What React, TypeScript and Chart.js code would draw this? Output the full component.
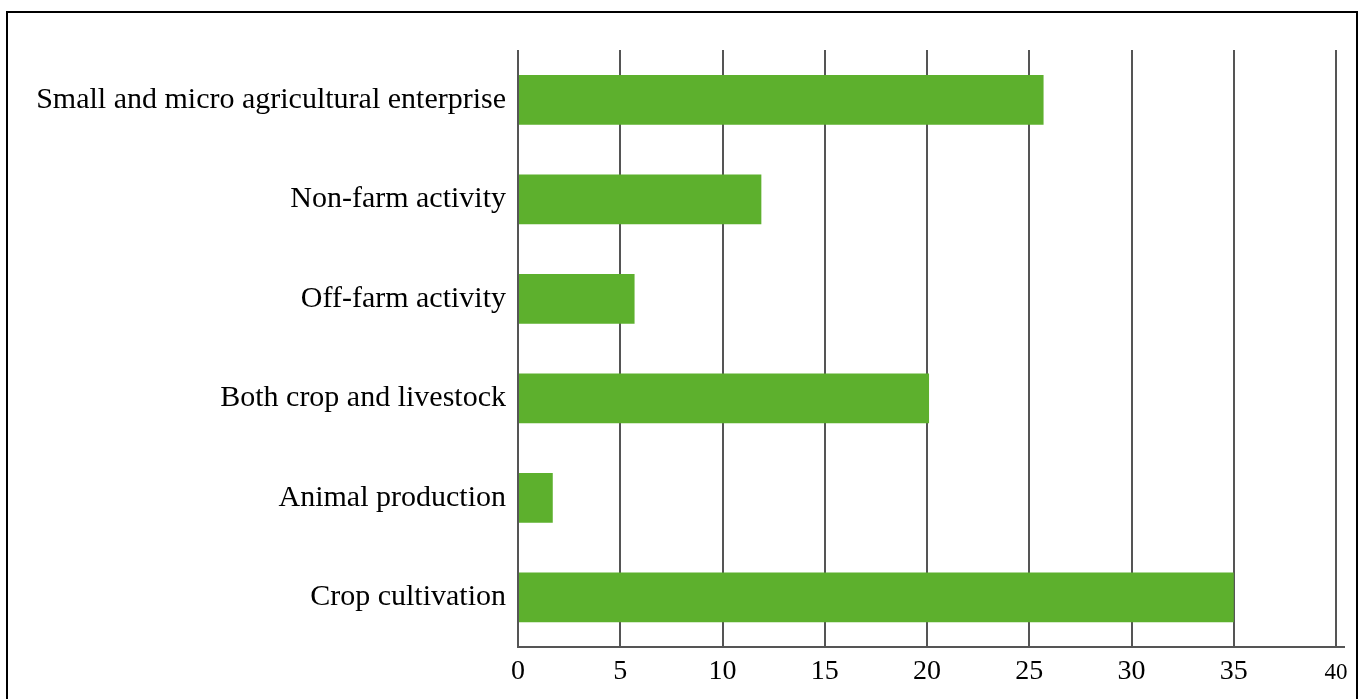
import React, { useEffect, useRef } from "react";
import { Chart, registerables } from "chart.js";

Chart.register(...registerables);

const categories = [
  "Small and micro agricultural enterprise",
  "Non-farm activity",
  "Off-farm activity",
  "Both crop and livestock",
  "Animal production",
  "Crop cultivation",
];
const values = [25.7, 11.9, 5.7, 20.1, 1.7, 35.0];
const xTicks = [0, 5, 10, 15, 20, 25, 30, 35, 40];

const axisExtend = {
  id: "axisExtend",
  afterDraw(chart: any) {
    const { ctx, chartArea } = chart;
    ctx.save();
    ctx.strokeStyle = "#555";
    ctx.lineWidth = 2;
    ctx.beginPath();
    ctx.moveTo(chartArea.right, chartArea.bottom);
    ctx.lineTo(chartArea.right + 9, chartArea.bottom);
    ctx.stroke();
    ctx.restore();
  },
};

export default function App() {
  const ref = useRef<HTMLCanvasElement | null>(null);
  useEffect(() => {
    if (!ref.current) return;
    const chart = new Chart(ref.current, {
      type: "bar",
      data: {
        labels: categories,
        datasets: [
          {
            data: values,
            backgroundColor: "#5DB02D",
            borderWidth: 0,
            barPercentage: 0.5,
            categoryPercentage: 1,
          },
        ],
      },
      plugins: [axisExtend],
      options: {
        indexAxis: "y",
        animation: false,
        responsive: false,
        devicePixelRatio: 1,
        layout: { padding: { top: 50, right: 24, left: 0, bottom: 0 } },
        plugins: { legend: { display: false }, tooltip: { enabled: false } },
        scales: {
          x: {
            min: 0,
            max: 40,
            afterBuildTicks: (s: any) => {
              s.ticks = xTicks.map((v) => ({ value: v }));
            },
            afterFit: (s: any) => {
              s.height = 52;
            },
            grid: { color: "#555", lineWidth: 2, drawTicks: false },
            border: { color: "#555", width: 2 },
            ticks: {
              color: "#000",
              padding: 8,
              font: (ctx: any) =>
                ctx.tick && ctx.tick.value === 40
                  ? { family: "Liberation Serif", size: 23, lineHeight: "35px" }
                  : { family: "Liberation Serif", size: 28 },
            },
          },
          y: {
            afterFit: (s: any) => {
              s.width = 518;
            },
            grid: { display: false },
            border: { display: false },
            ticks: {
              color: "#000",
              padding: 4,
              font: { family: "Liberation Serif", size: 30 },
            },
          },
        },
      },
    });
    return () => chart.destroy();
  }, []);
  return (
    <div style={{ position: "absolute", left: 0, top: 0, width: 1360, height: 699, overflow: "hidden", background: "#fff" }}>
      <canvas ref={ref} width={1360} height={699} style={{ position: "absolute", left: 0, top: 0 }} />
      <div
        style={{
          position: "absolute",
          left: 6,
          top: 11,
          width: 1348,
          height: 720,
          border: "2px solid #000",
          pointerEvents: "none",
        }}
      />
    </div>
  );
}
